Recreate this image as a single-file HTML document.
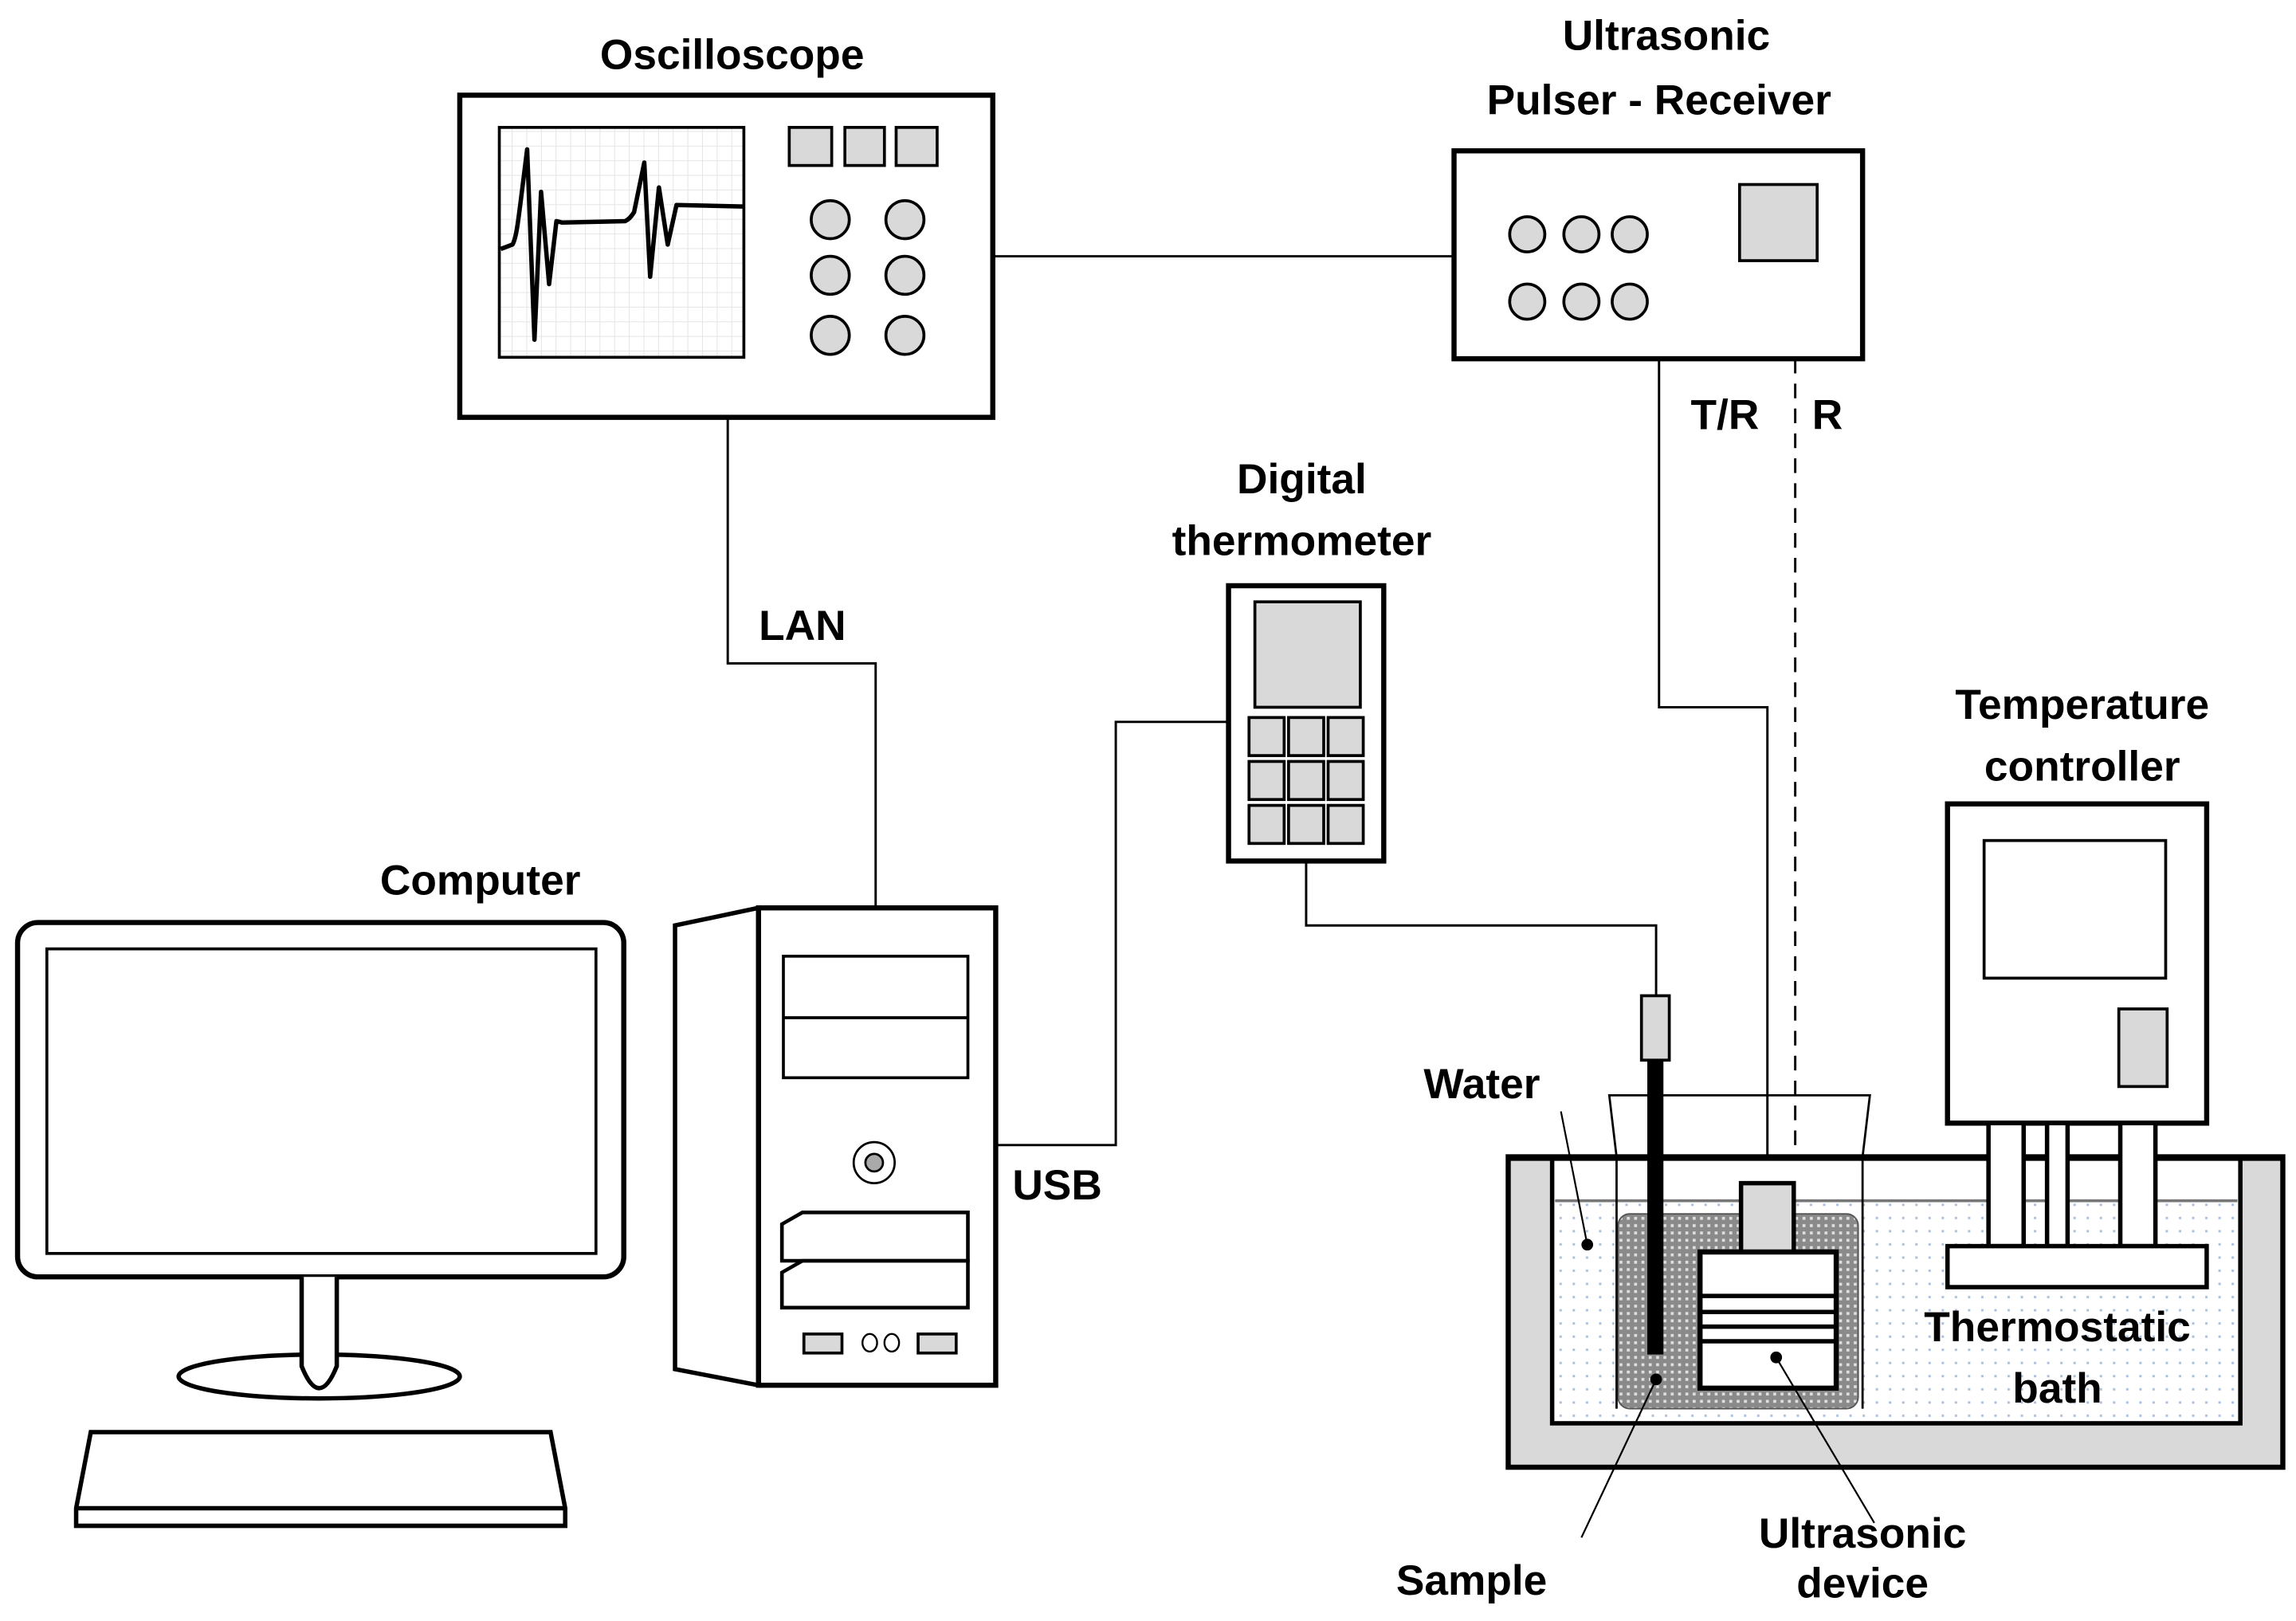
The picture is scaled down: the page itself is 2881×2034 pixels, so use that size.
<!DOCTYPE html>
<html><head><meta charset="utf-8"><style>html,body{margin:0;padding:0;background:#fff}svg{display:block}</style></head>
<body>
<svg width="2881" height="2034" viewBox="0 0 1568 1107" xmlns="http://www.w3.org/2000/svg" font-family="'Liberation Sans', sans-serif" font-weight="bold" font-size="29" fill="none" stroke="#000">
<defs>
<pattern id="grid" width="10" height="10" patternUnits="userSpaceOnUse"><path d="M10 0V10M0 10H10" stroke="#e2e2e2" stroke-width="1"/></pattern>
<pattern id="water" width="9" height="9" patternUnits="userSpaceOnUse"><rect width="9" height="9" fill="#fff" stroke="none"/><rect x="3" y="3" width="1.6" height="1.6" fill="#a9bfdc" stroke="none"/></pattern>
<pattern id="sand" width="5" height="5" patternUnits="userSpaceOnUse"><rect width="5" height="5" fill="#8a8a8a" stroke="none"/><rect x="1" y="1" width="2" height="2" fill="#e0e0e0" stroke="none"/></pattern>
</defs>
<g fill="#000" stroke="none">
<text x="500" y="47" text-anchor="middle">Oscilloscope</text>
<text x="1138" y="34" text-anchor="middle">Ultrasonic</text>
<text x="1133" y="78" text-anchor="middle">Pulser - Receiver</text>
<text x="1178" y="293" text-anchor="middle">T/R</text>
<text x="1248" y="293" text-anchor="middle">R</text>
<text x="548" y="437" text-anchor="middle">LAN</text>
<text x="889" y="337" text-anchor="middle">Digital</text>
<text x="889" y="379" text-anchor="middle">thermometer</text>
<text x="1422" y="491" text-anchor="middle">Temperature</text>
<text x="1422" y="533" text-anchor="middle">controller</text>
<text x="328" y="611" text-anchor="middle">Computer</text>
<text x="722" y="819" text-anchor="middle">USB</text>
<text x="1012" y="750" text-anchor="middle">Water</text>
<text x="1005" y="1089" text-anchor="middle">Sample</text>
<text x="1272" y="1057" text-anchor="middle">Ultrasonic</text>
<text x="1272" y="1091" text-anchor="middle">device</text>
</g>
<g stroke-width="1.6">
<path d="M678 175H993"/>
<path d="M497 285V453H598V620"/>
<path d="M1133 245V483H1207V808"/>
<path d="M1226 245V808" stroke-dasharray="10 7"/>
<path d="M839 493H762V782H680"/>
<path d="M892 588V632H1131V680"/>
</g>
<rect x="314" y="65" width="364" height="220" stroke-width="3.5" fill="#fff"/>
<rect x="341" y="87" width="167" height="157" fill="url(#grid)" stroke-width="2"/>
<path d="M342 170 L350 167 C353 162 354 150 360 102 L365 232 L369.5 131 L375 194 L380 151 L384 152 L427 151 C431 149 432 146 433 145 L440 111 L444 189 L450 128 L456 167 L462 140 L507 141" stroke-width="3" stroke-linejoin="round"/>
<g fill="#d9d9d9" stroke-width="2">
<rect x="539" y="87" width="29" height="26"/><rect x="577" y="87" width="27" height="26"/><rect x="612" y="87" width="28" height="26"/>
<circle cx="567" cy="150" r="13"/><circle cx="618" cy="150" r="13"/>
<circle cx="567" cy="188" r="13"/><circle cx="618" cy="188" r="13"/>
<circle cx="567" cy="229" r="13"/><circle cx="618" cy="229" r="13"/>
</g>
<rect x="993" y="103" width="279" height="142" stroke-width="3.5" fill="#fff"/>
<rect x="1188" y="126" width="53" height="52" fill="#d9d9d9" stroke-width="2"/>
<g fill="#d9d9d9" stroke-width="2">
<circle cx="1043" cy="160" r="12"/><circle cx="1080" cy="160" r="12"/><circle cx="1113" cy="160" r="12"/>
<circle cx="1043" cy="206" r="12"/><circle cx="1080" cy="206" r="12"/><circle cx="1113" cy="206" r="12"/>
</g>
<rect x="839" y="400" width="106" height="188" stroke-width="3.5" fill="#fff"/>
<rect x="857" y="411" width="72" height="72" fill="#d9d9d9" stroke-width="2"/>
<g fill="#d9d9d9" stroke-width="2">
<rect x="853" y="490" width="24" height="26"/><rect x="880" y="490" width="24" height="26"/><rect x="907" y="490" width="24" height="26"/>
<rect x="853" y="520" width="24" height="26"/><rect x="880" y="520" width="24" height="26"/><rect x="907" y="520" width="24" height="26"/>
<rect x="853" y="550" width="24" height="26"/><rect x="880" y="550" width="24" height="26"/><rect x="907" y="550" width="24" height="26"/>
</g>
<rect x="12" y="630" width="414" height="242" rx="14" stroke-width="3.5" fill="#fff"/>
<rect x="32" y="648" width="375" height="208" stroke-width="2"/>
<ellipse cx="218" cy="940" rx="96" ry="15" stroke-width="3" fill="#fff"/>
<path d="M206 872V933Q212 948 218 948Q224 948 230 933V872" stroke-width="3" fill="#fff"/>
<path d="M62 978H376L386 1030V1042H52V1030Z" stroke-width="3" fill="#fff"/>
<path d="M52 1030H386" stroke-width="3"/>
<path d="M461 632L518 620V946L461 935Z" stroke-width="3" fill="#fff"/>
<rect x="518" y="620" width="162" height="326" stroke-width="3.5" fill="#fff"/>
<rect x="535" y="653" width="126" height="83" stroke-width="2"/>
<path d="M535 695H661" stroke-width="2"/>
<circle cx="597" cy="794" r="14" stroke-width="1.5"/>
<circle cx="597" cy="794" r="6" fill="#aaa" stroke-width="1.5"/>
<path d="M534 836L548 828H661V861H534Z" stroke-width="2.5"/>
<path d="M534 869L548 861H661V893H534Z" stroke-width="2.5"/>
<rect x="549" y="911" width="26" height="13" fill="#d9d9d9" stroke-width="2"/>
<rect x="627" y="911" width="26" height="13" fill="#d9d9d9" stroke-width="2"/>
<ellipse cx="594" cy="917" rx="5" ry="6" stroke-width="1.3"/>
<ellipse cx="609" cy="917" rx="5" ry="6" stroke-width="1.3"/>
<rect x="1330" y="549" width="177" height="218" stroke-width="3.5" fill="#fff"/>
<rect x="1355" y="574" width="124" height="94" stroke-width="2"/>
<rect x="1447" y="689" width="33" height="53" fill="#d9d9d9" stroke-width="2"/>
<rect x="1030" y="790" width="529" height="212" fill="#d9d9d9" stroke-width="3.5"/>
<rect x="1060" y="790" width="470" height="182" fill="#fff" stroke-width="3"/>
<rect x="1062" y="821" width="466" height="149" fill="url(#water)" stroke="none"/>
<path d="M1062 820H1528" stroke="#777" stroke-width="2"/>
<path d="M1030 791H1559" stroke-width="3.5"/>
<rect x="1105" y="829" width="164" height="133" rx="8" fill="url(#sand)" stroke="#555" stroke-width="1"/>
<path d="M1104 962V790L1099 748H1277L1272 790V962" stroke-width="1.5"/>
<g fill="#fff" stroke-width="3">
<rect x="1358" y="767" width="24" height="84"/>
<rect x="1398" y="767" width="14" height="84"/>
<rect x="1448" y="767" width="24" height="84"/>
<rect x="1330" y="851" width="177" height="28"/>
</g>
<rect x="1121" y="680" width="19" height="44" fill="#d9d9d9" stroke-width="2"/>
<rect x="1125" y="724" width="11" height="201" fill="#000" stroke="none"/>
<rect x="1189" y="808" width="36" height="47" fill="#d9d9d9" stroke-width="3"/>
<rect x="1161" y="855" width="93" height="93" fill="#fff" stroke-width="3.5"/>
<g stroke-width="3"><path d="M1161 885H1254M1161 896H1254M1161 906H1254M1161 916H1254"/></g>
<g fill="#000" stroke="none">
<text x="1405" y="916" text-anchor="middle">Thermostatic</text>
<text x="1405" y="958" text-anchor="middle">bath</text>
<circle cx="1084" cy="850" r="4"/><circle cx="1131" cy="942" r="4"/><circle cx="1213" cy="927" r="4"/>
</g>
<g stroke-width="1.2">
<path d="M1066 759L1084 850"/>
<path d="M1131 942L1080 1050"/>
<path d="M1213 927L1280 1040"/>
</g>
</svg>
</body></html>
